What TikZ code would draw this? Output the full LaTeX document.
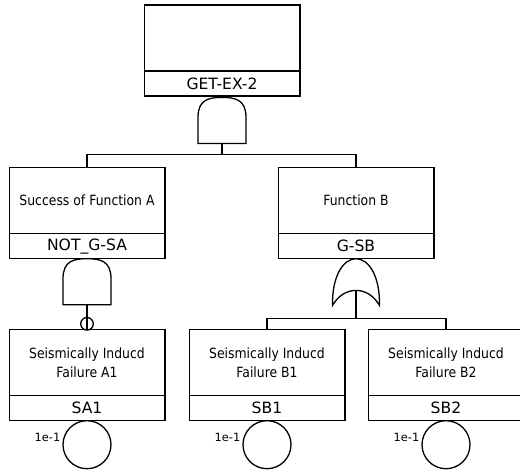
\documentclass[tikz,border=0pt]{standalone}
\usepackage{fontspec}
\newfontfamily\dv{DejaVu Sans}
\newfontfamily\dvc[FakeStretch=0.88]{DejaVu Sans}
\usetikzlibrary{calc}
\tikzset{
  ln/.style={line width=1.3pt, draw=black},
  descbox/.style={ln, rectangle, outer sep=0pt, minimum width=155.7pt, minimum height=66pt, inner sep=0pt, align=center, font=\dvc\fontsize{14.1}{18.5}\selectfont},
  idbox/.style={ln, rectangle, outer sep=0pt, minimum width=155.7pt, minimum height=25pt, inner sep=0pt, font=\dv\fontsize{15.6}{18}\selectfont},
  basic/.style={ln, circle, outer sep=0pt, minimum size=48pt, inner sep=0pt},
  prob/.style={inner sep=0pt, anchor=east, font=\dv\fontsize{11.4}{13}\selectfont},
  notbubble/.style={ln, circle, minimum size=12.6pt, inner sep=0pt},
  andgate/.pic={
    \draw[ln] (-24,46) -- (-24,20) .. controls (-24,2) and (-13,0) .. (0,0)
      .. controls (13,0) and (24,2) .. (24,20) -- (24,46) -- cycle;
    \coordinate (-in) at (0,0);
    \coordinate (-out) at (0,46);
  },
  orgate/.pic={
    \draw[ln] (-23.5,46.7) .. controls (-24,16) and (-12,0) .. (0,0)
      .. controls (12,0) and (24,16) .. (23.5,46.7)
      .. controls (12,26.7) and (-12,26.7) .. cycle;
    \coordinate (-in) at (0,0);
    \coordinate (-out) at (0,31.7);
  }
}
\begin{document}
\begin{tikzpicture}[x=1pt,y=-1pt]
\clip (0,0) rectangle (520,471);
% top event
\node[descbox] (T) at (222,38) {};
\node[idbox, anchor=north] (Tid) at (T.south) {GET-EX-2};
\pic (g0) at (222,97.4) {andgate};
\coordinate (j0) at (222,154.5);
\draw[ln] (g0-out) -- (j0);
% middle row
\node[descbox] (A) at (87,200.7) {Success of Function A};
\node[idbox, anchor=north] (Aid) at (A.south) {NOT\_G-SA};
\node[descbox] (B) at (356,200.7) {Function B};
\node[idbox, anchor=north] (Bid) at (B.south) {G-SB};
\draw[ln] (A.north) |- (j0) -| (B.north);
% gate under A
\pic (g1) at (87,258.7) {andgate};
% gate under B
\pic (g2) at (356,258.7) {orgate};
\coordinate (j2) at (356,318.7);
\draw[ln] (g2-out) -- (j2);
% bottom row
\node[descbox] (SA) at (87,362.7) {Seismically Inducd\\Failure A1};
\node[idbox, anchor=north] (SAid) at (SA.south) {SA1};
\node[descbox] (SB1) at (267,362.7) {Seismically Inducd\\Failure B1};
\node[idbox, anchor=north] (SB1id) at (SB1.south) {SB1};
\node[descbox] (SB2) at (446,362.7) {Seismically Inducd\\Failure B2};
\node[idbox, anchor=north] (SB2id) at (SB2.south) {SB2};
\draw[ln] (SB1.north) |- (j2) -| (SB2.north);
% NOT connection
\draw[ln] (g1-out) -- (SA.north);
\node[notbubble] (nb) at (87,323.8) {};
% basic events
\node[basic, anchor=north] (ea) at (SAid.south) {};
\node[basic, anchor=north] (eb1) at (SB1id.south) {};
\node[basic, anchor=north] (eb2) at (SB2id.south) {};
\node[prob] (pa) at ($(ea.west)+(-2.5,-7)$) {1e-1};
\node[prob] (pb1) at ($(eb1.west)+(-2.5,-7)$) {1e-1};
\node[prob] (pb2) at ($(eb2.west)+(-2.5,-7)$) {1e-1};
\end{tikzpicture}
\end{document}
